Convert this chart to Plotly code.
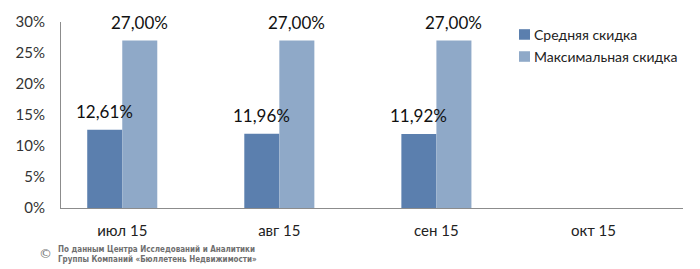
import plotly.graph_objects as go

categories = ["июл 15", "авг 15", "сен 15", "окт 15"]
avg_discount = [0.1261, 0.1196, 0.1192, None]
max_discount = [0.27, 0.27, 0.27, None]
series_names = ["Средняя скидка", "Максимальная скидка"]
y_ticks = [0, 0.05, 0.10, 0.15, 0.20, 0.25, 0.30]

FONT = "Lato, 'Open Sans', sans-serif"
colors = ["#5b7fae", "#8fa9c8"]
series = [avg_discount, max_discount]

fig = go.Figure()
for name, vals, col in zip(series_names, series, colors):
    fig.add_trace(go.Bar(x=categories, y=vals, name=name,
                         marker=dict(color=col, line=dict(width=0)),
                         showlegend=False))

# data labels
for i, vals in enumerate(series):
    for cat, v in zip(categories, vals):
        if v is None:
            continue
        fig.add_annotation(x=cat, y=v, xref="x", yref="y",
                           text=f"{v*100:.2f}%".replace(".", ","),
                           showarrow=False, xanchor="center", yanchor="bottom",
                           xshift=(-17.5 if i == 0 else 17.5), yshift=6,
                           font=dict(size=17, color="#111111", family=FONT))

# manual legend
legend_rows_y = [27, 50]
for name, col, py in zip(series_names, colors, legend_rows_y):
    fig.add_shape(type="rect", xref="paper", yref="paper",
                  x0=(519 - 61) / 622, x1=(530 - 61) / 622,
                  y0=(208 - py - 5.5) / 194, y1=(208 - py + 5.5) / 194,
                  fillcolor=col, line=dict(width=0))
    fig.add_annotation(xref="paper", yref="paper", x=(532 - 61) / 622,
                       y=(208 - py) / 194, xanchor="left", yanchor="middle",
                       showarrow=False, text=name,
                       font=dict(size=14, color="#222222", family=FONT))

fig.update_layout(
    width=700, height=269,
    margin=dict(l=61, r=17, t=14, b=61),
    paper_bgcolor="white", plot_bgcolor="white",
    barmode="group", bargap=0.554, bargroupgap=0,
    font=dict(family=FONT, size=14, color="#333333"),
    showlegend=False,
    xaxis=dict(type="category", range=[-0.39, 3.57],
               showline=True, linecolor="#8c8c8c", linewidth=1,
               ticks="", showgrid=False, zeroline=False, ticklabelstandoff=9,
               tickfont=dict(size=15, color="#222222")),
    yaxis=dict(range=[0, 0.30], tickvals=y_ticks, tickformat=".0%",
               showline=True, linecolor="#8c8c8c", linewidth=1,
               ticks="", showgrid=False, zeroline=False, ticklabelstandoff=12,
               tickfont=dict(size=15, color="#333333")),
)

fig.add_annotation(xref="paper", yref="paper", x=(45 - 61) / 622, y=(208 - 255) / 194,
                   xanchor="center", yanchor="middle", showarrow=False,
                   text="©", font=dict(size=13, color="#777777", family="DejaVu Sans"))
fig.add_annotation(xref="paper", yref="paper", x=(56 - 61) / 622, y=(208 - 256.5) / 194,
                   xanchor="left", yanchor="middle", showarrow=False, align="left",
                   text="<b>По данным Центра Исследований и Аналитики<br>Группы Компаний «Бюллетень Недвижимости»</b>",
                   font=dict(size=8, color="#6f6f6f", family="'DejaVu Sans Condensed', sans-serif"))

fig.write_html("out.html")
